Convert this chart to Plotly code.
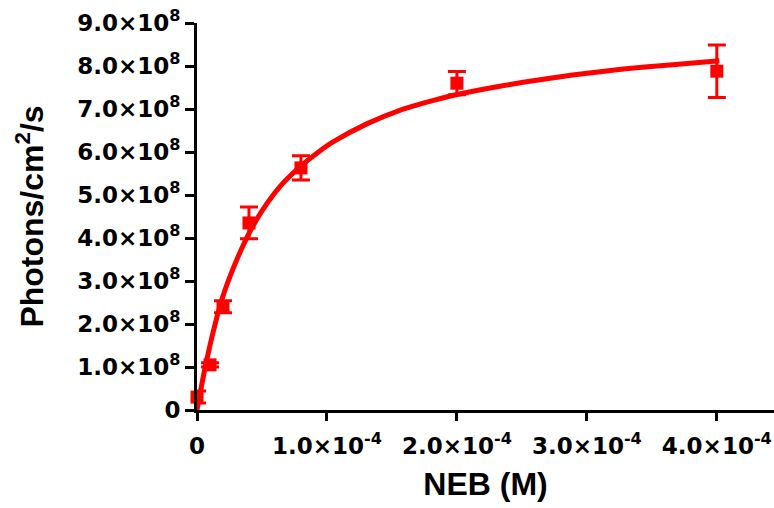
import plotly.graph_objects as go

# Measured data (NEB concentration in M, photon flux in photons/cm^2/s)
neb_conc = [0.0, 1.0e-5, 2.0e-5, 4.0e-5, 8.0e-5, 2.0e-4, 4.0e-4]
photons = [0.30e8, 1.05e8, 2.40e8, 4.35e8, 5.63e8, 7.60e8, 7.88e8]
photons_err = [0.14e8, 0.05e8, 0.14e8, 0.37e8, 0.28e8, 0.27e8, 0.61e8]

# Fitted curve, points
fit_x = [0.0, 0.062e-4, 0.138e-4, 0.20e-4, 0.27e-4, 0.354e-4, 0.43e-4, 0.54e-4,
         0.66e-4, 0.79e-4, 0.93e-4, 1.05e-4, 1.31e-4, 1.56e-4, 1.82e-4, 2.02e-4,
         2.33e-4, 2.51e-4, 2.89e-4, 3.28e-4, 3.66e-4, 4.02e-4]
fit_y = [0.0, 0.98e8, 1.98e8, 2.65e8, 3.23e8, 3.82e8, 4.28e8, 4.81e8,
         5.27e8, 5.65e8, 5.99e8, 6.24e8, 6.66e8, 6.97e8, 7.20e8, 7.35e8,
         7.53e8, 7.62e8, 7.79e8, 7.93e8, 8.03e8, 8.12e8]

x_tickvals = [0, 1e-4, 2e-4, 3e-4, 4e-4]
x_ticktext = ["0", "1.0×10<sup>-4</sup>", "2.0×10<sup>-4</sup>",
              "3.0×10<sup>-4</sup>", "4.0×10<sup>-4</sup>"]
y_tickvals = [i * 1e8 for i in range(10)]
y_ticktext = ["0"] + [f"{i}.0×10<sup>8</sup>" for i in range(1, 10)]

RED = "#FF0000"

fig = go.Figure()
fig.add_trace(go.Scatter(
    x=fit_x, y=fit_y, mode="lines",
    line=dict(color=RED, width=5, shape="spline", smoothing=0.6),
    hoverinfo="skip", showlegend=False, cliponaxis=False,
))
fig.add_trace(go.Scatter(
    x=neb_conc, y=photons, mode="markers",
    marker=dict(symbol="square", size=13, color=RED),
    error_y=dict(type="data", array=photons_err, color=RED, thickness=3, width=9),
    showlegend=False, cliponaxis=False,
))

tick_font = dict(family="DejaVu Sans", size=23, color="black", weight="bold")
title_font = dict(family="Liberation Sans", size=32, color="black", weight="bold")

fig.update_layout(
    width=774, height=508,
    margin=dict(l=197, r=0, t=23, b=98),
    plot_bgcolor="white", paper_bgcolor="white",
    xaxis=dict(
        range=[0, 4.44e-4], tickvals=x_tickvals, ticktext=x_ticktext,
        showgrid=False, zeroline=False, showline=True, linecolor="black",
        linewidth=3, ticks="outside", ticklen=8, tickwidth=3, tickcolor="black",
        tickfont=tick_font, ticklabelstandoff=5,
        title=dict(text="<b>NEB (M)</b>", font=title_font, standoff=16),
    ),
    yaxis=dict(
        range=[0, 9e8], tickvals=y_tickvals, ticktext=y_ticktext,
        showgrid=False, zeroline=False, showline=True, linecolor="black",
        linewidth=3, ticks="outside", ticklen=9, tickwidth=3, tickcolor="black",
        tickfont=tick_font,
        title=dict(text="<b>Photons/cm<sup>2</sup>/s</b>", font=title_font, standoff=24),
    ),
)

fig.write_html("out.html")
